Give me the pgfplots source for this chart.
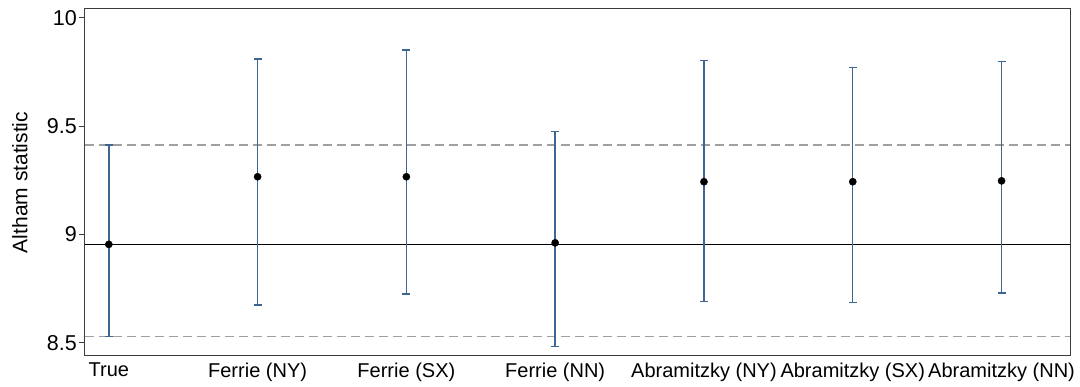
\documentclass[border=0pt]{standalone}
\usepackage{pgfplots}
\pgfplotsset{compat=1.18}
\usepackage{pgfplotstable}
\usepackage{fontspec}
\setmainfont{Liberation Sans}
\definecolor{barblue}{RGB}{62,102,146}
\definecolor{dashgray}{RGB}{160,160,160}
\definecolor{axgray}{RGB}{60,60,60}
\pgfplotstableread{
x y ep em
0 8.954 0.458 0.426
1 9.266 0.543 0.592
2 9.266 0.585 0.541
3 8.961 0.513 0.479
4 9.243 0.559 0.552
5 9.243 0.528 0.557
6 9.247 0.550 0.518
}\datatab
\begin{document}
\begin{tikzpicture}
\useasboundingbox (-85pt,-31pt) rectangle (995pt,356pt);
\begin{axis}[
  scale only axis,
  width=985pt, height=347pt,
  xmin=-0.16, xmax=6.46,
  ymin=8.439, ymax=10.04,
  axis line style={axgray, line width=1pt},
  xtick={0,1,2,3,4,5,6},
  xticklabels={True,Ferrie (NY),Ferrie (SX),Ferrie (NN),Abramitzky (NY),Abramitzky (SX),Abramitzky (NN)},
  ytick={8.5,9,9.5,10},
  yticklabels={8.5,9,9.5,10},
  x tick style={draw=none},
  y tick style={axgray, line width=0.8pt},
  tick align=outside,
  major tick length=6pt,
  xtick pos=bottom, ytick pos=left,
  xticklabel style={font=\fontsize{20}{22}\selectfont, inner sep=1pt, yshift=0pt},
  yticklabel style={font=\fontsize{21.5}{23}\selectfont, inner sep=2pt},
  ylabel={Altham statistic},
  ylabel style={font=\fontsize{21}{24}\selectfont, at={(axis description cs:-0.066,0.5)}, anchor=center, rotate=0},
  /pgf/number format/assume math mode=true,
  clip=false,
]
\addplot[dashgray, line width=1.5pt, dash pattern=on 9pt off 5pt, forget plot] coordinates {(-0.16,9.412) (6.46,9.412)};
\addplot[dashgray, line width=1.5pt, dash pattern=on 9pt off 5pt, forget plot] coordinates {(-0.16,8.528) (6.46,8.528)};
\addplot[black, line width=1.2pt, forget plot] coordinates {(-0.16,8.954) (6.46,8.954)};
\addplot[only marks, mark=*, mark size=3.6pt, black,
  error bars/.cd, y dir=both, y explicit,
  error bar style={barblue, line width=1.4pt},
  error mark options={barblue, rotate=90, mark size=4pt, line width=1.4pt}]
  table[x=x, y=y, y error plus=ep, y error minus=em] {\datatab};
\end{axis}
\end{tikzpicture}
\end{document}
